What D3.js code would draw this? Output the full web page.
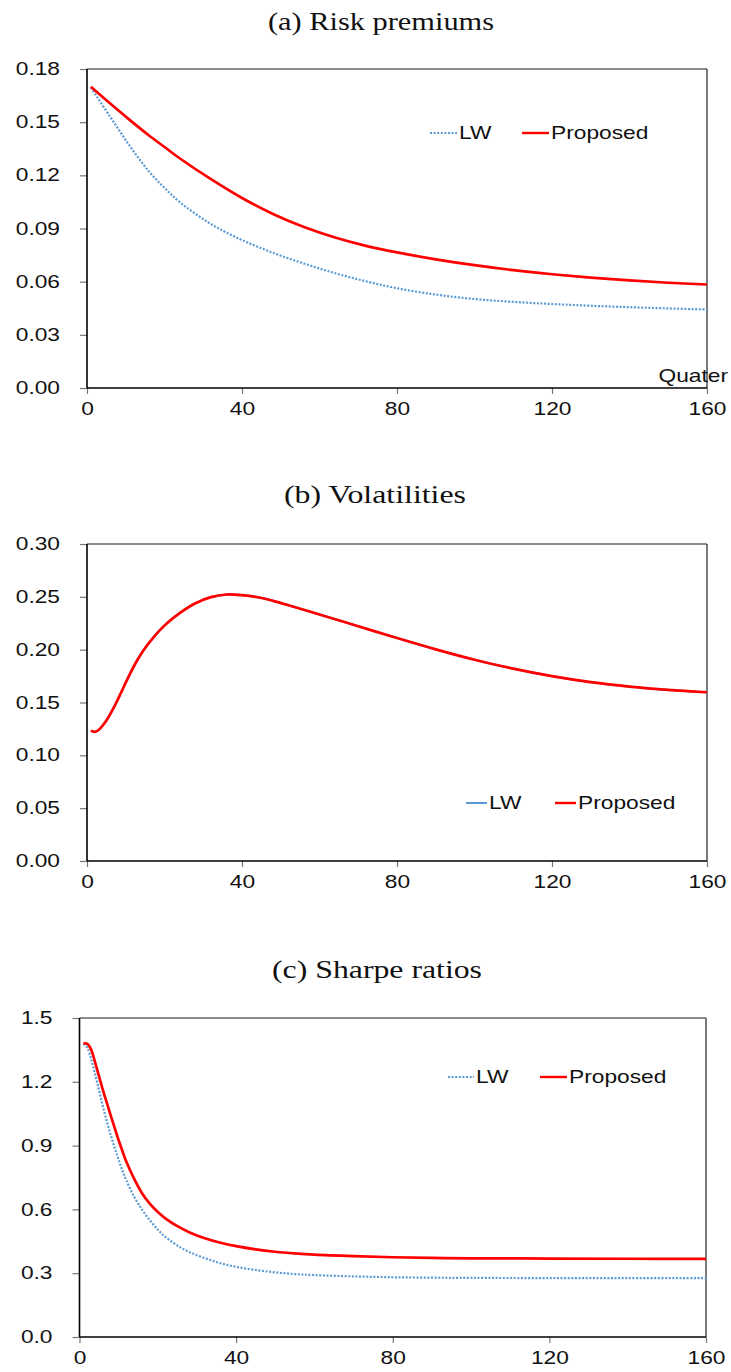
<!DOCTYPE html>
<html>
<head>
<meta charset="utf-8">
<script src="https://cdn.jsdelivr.net/npm/d3@7"></script>
<style>
  body { margin: 0; background: #fff; }
  text { font-family: "Liberation Sans", Arial, sans-serif; fill: #111; }
</style>
</head>
<body>
<div id="chart"></div>
<script>
// ---- data ----
const xTicks = [0, 40, 80, 120, 160];

// (a) Risk premiums
const riskX = [1, 6, 11, 16, 20, 24, 32, 40, 48, 56, 64, 72, 80, 90, 100, 110, 120, 130, 140, 150, 160];
const riskLW = [0.1695, 0.1530, 0.1367, 0.1222, 0.1129, 0.1048, 0.0925, 0.0835, 0.0763, 0.0702, 0.0648,
                0.0602, 0.0563, 0.0527, 0.0502, 0.0486, 0.0474, 0.0464, 0.0456, 0.0449, 0.0443];
const riskProposed = [0.1700, 0.1605, 0.1513, 0.1425, 0.1360, 0.1295, 0.1178, 0.1072, 0.0982, 0.0908,
                      0.0849, 0.0802, 0.0765, 0.0726, 0.0693, 0.0665, 0.0642, 0.0623, 0.0607, 0.0594, 0.0584];
const riskTicks = [0, 0.03, 0.06, 0.09, 0.12, 0.15, 0.18];

// (b) Volatilities (both series coincide)
const volX = [1, 2, 3, 4, 5, 6, 7, 8, 9, 10, 11, 12, 13, 14, 15, 17, 19, 21, 24, 28, 32, 36, 40, 44, 48,
              52, 60, 70, 80, 90, 100, 110, 120, 130, 140, 150, 160];
const volLW = [0.1234, 0.1222, 0.1240, 0.1280, 0.1330, 0.1390, 0.1458, 0.1532, 0.1610, 0.1688, 0.1764,
               0.1836, 0.1902, 0.1962, 0.2016, 0.2110, 0.2192, 0.2262, 0.2349, 0.2440, 0.2497, 0.2522,
               0.2516, 0.2496, 0.2462, 0.2421, 0.2333, 0.2222, 0.2110, 0.2003, 0.1905, 0.1820, 0.1749,
               0.1692, 0.1650, 0.1619, 0.1597];
const volProposed = volLW.slice();
const volTicks = [0, 0.05, 0.10, 0.15, 0.20, 0.25, 0.30];

// (c) Sharpe ratios
const sharpeX = [1, 2, 3, 4, 5, 6, 7, 8, 9, 10, 11, 12, 14, 16, 18, 20, 22, 25, 28, 32, 36, 40, 45, 50,
                 55, 60, 70, 80, 90, 100, 120, 140, 160];
const sharpeLW = [1.378, 1.360, 1.305, 1.235, 1.160, 1.082, 1.012, 0.948, 0.888, 0.833, 0.780, 0.735,
                  0.658, 0.598, 0.548, 0.505, 0.470, 0.430, 0.400, 0.371, 0.347, 0.330, 0.315, 0.304,
                  0.296, 0.291, 0.285, 0.281, 0.279, 0.278, 0.277, 0.277, 0.277];
const sharpeProposed = [1.380, 1.378, 1.350, 1.290, 1.225, 1.160, 1.100, 1.040, 0.982, 0.925, 0.872, 0.823,
                        0.742, 0.675, 0.626, 0.588, 0.557, 0.521, 0.493, 0.464, 0.443, 0.427, 0.412, 0.401,
                        0.393, 0.387, 0.380, 0.375, 0.372, 0.370, 0.369, 0.368, 0.367];
const sharpeTicks = [0, 0.3, 0.6, 0.9, 1.2, 1.5];

const K = 1.3;           // horizontal stretch of the sans text
const blue = "#5b9bd5";
const red = "#ff0000";

const svg = d3.select("#chart").append("svg")
    .attr("width", 731)
    .attr("height", 1372);

function stretchedText(g, x, y, str, anchor) {
    return g.append("text")
        .attr("transform", `translate(${x},${y}) scale(${K},1)`)
        .attr("text-anchor", anchor)
        .attr("dy", "0.35em")
        .style("font-size", "17.5px")
        .text(str);
}

function drawPanel(p) {
    const g = svg.append("g");
    const x = d3.scaleLinear().domain([0, 160]).range([p.left, p.right]);
    const y = d3.scaleLinear().domain([0, p.yMax]).range([p.bottom, p.top]);

    // title
    g.append("text")
        .attr("x", p.titleX)
        .attr("y", p.titleY + 8)
        .attr("text-anchor", "middle")
        .attr("textLength", p.titleLen)
        .attr("lengthAdjust", "spacingAndGlyphs")
        .style("font-family", "'Liberation Serif', 'DejaVu Serif', serif")
        .style("font-size", "25px")
        .text(p.title);

    // axes
    const gy = g.append("g")
        .attr("transform", `translate(${p.left},0)`)
        .call(d3.axisLeft(y).tickValues(p.yTicks).tickSize(7).tickFormat(d3.format(p.fmt)));
    gy.select(".domain").remove();
    gy.selectAll("line").attr("stroke", "#777").attr("stroke-width", 1.2);
    gy.selectAll("text")
        .attr("x", null)
        .attr("transform", `translate(-27,0) scale(${K},1)`)
        .style("font-size", "17.5px")
        .attr("fill", "#111");

    const gx = g.append("g")
        .attr("transform", `translate(0,${p.bottom})`)
        .call(d3.axisBottom(x).tickValues(xTicks).tickSize(6));
    gx.select(".domain").remove();
    gx.selectAll("line").attr("stroke", "#777").attr("stroke-width", 1.2);
    gx.selectAll("text")
        .attr("y", null)
        .attr("transform", `translate(0,14.5) scale(${K},1)`)
        .style("font-size", "17.5px")
        .attr("fill", "#111");

    // frame
    g.append("line").attr("x1", p.left).attr("x2", p.right).attr("y1", p.top).attr("y2", p.top)
        .attr("stroke", "#666").attr("stroke-width", 1.3);
    g.append("line").attr("x1", p.right).attr("x2", p.right).attr("y1", p.top).attr("y2", p.bottom)
        .attr("stroke", "#333").attr("stroke-width", 1.3);
    g.append("line").attr("x1", p.left).attr("x2", p.right).attr("y1", p.bottom).attr("y2", p.bottom)
        .attr("stroke", "#000").attr("stroke-width", 1.6);
    g.append("line").attr("x1", p.left).attr("x2", p.left).attr("y1", p.top).attr("y2", p.bottom)
        .attr("stroke", "#000").attr("stroke-width", 1.6);

    // series
    const line = d3.line()
        .x((d, i) => x(p.xs[i]))
        .y(d => y(d))
        .curve(d3.curveCatmullRom.alpha(0.5));

    g.append("path")
        .attr("d", line(p.lw))
        .attr("fill", "none")
        .attr("stroke", blue)
        .attr("stroke-width", p.lwDotted ? 2.2 : 2)
        .attr("stroke-dasharray", p.lwDotted ? "2,1.6" : null);

    g.append("path")
        .attr("d", line(p.prop))
        .attr("fill", "none")
        .attr("stroke", red)
        .attr("stroke-width", 2.7);

    // legend
    const L = p.legend;
    g.append("line").attr("x1", L.lw[0]).attr("x2", L.lw[1]).attr("y1", L.y).attr("y2", L.y)
        .attr("stroke", blue).attr("stroke-width", p.lwDotted ? 2.2 : 2)
        .attr("stroke-dasharray", p.lwDotted ? "2,1.6" : null);
    stretchedText(g, L.lw[1] + 2, L.y, "LW", "start");
    g.append("line").attr("x1", L.prop[0]).attr("x2", L.prop[1]).attr("y1", L.y).attr("y2", L.y)
        .attr("stroke", red).attr("stroke-width", 2.4);
    stretchedText(g, L.prop[1] + 2, L.y, "Proposed", "start");

    if (p.xLabel) {
        stretchedText(g, 728, p.bottom - 12, p.xLabel, "end");
    }
}

drawPanel({
    title: "(a) Risk premiums", titleX: 381, titleY: 22, titleLen: 226,
    left: 87, right: 707, top: 69, bottom: 388,
    yMax: 0.18, yTicks: riskTicks, fmt: ".2f",
    xs: riskX, lw: riskLW, prop: riskProposed, lwDotted: true,
    legend: { y: 133, lw: [430, 457], prop: [522, 549] },
    xLabel: "Quater"
});

drawPanel({
    title: "(b) Volatilities", titleX: 375, titleY: 495, titleLen: 182,
    left: 87, right: 707, top: 544, bottom: 861,
    yMax: 0.30, yTicks: volTicks, fmt: ".2f",
    xs: volX, lw: volLW, prop: volProposed, lwDotted: false,
    legend: { y: 803, lw: [466, 487], prop: [555, 576] }
});

drawPanel({
    title: "(c) Sharpe ratios", titleX: 377, titleY: 970, titleLen: 210,
    left: 79.5, right: 706, top: 1018, bottom: 1337,
    yMax: 1.5, yTicks: sharpeTicks, fmt: ".1f",
    xs: sharpeX, lw: sharpeLW, prop: sharpeProposed, lwDotted: true,
    legend: { y: 1077, lw: [448, 474], prop: [540, 567] }
});
</script>
</body>
</html>
